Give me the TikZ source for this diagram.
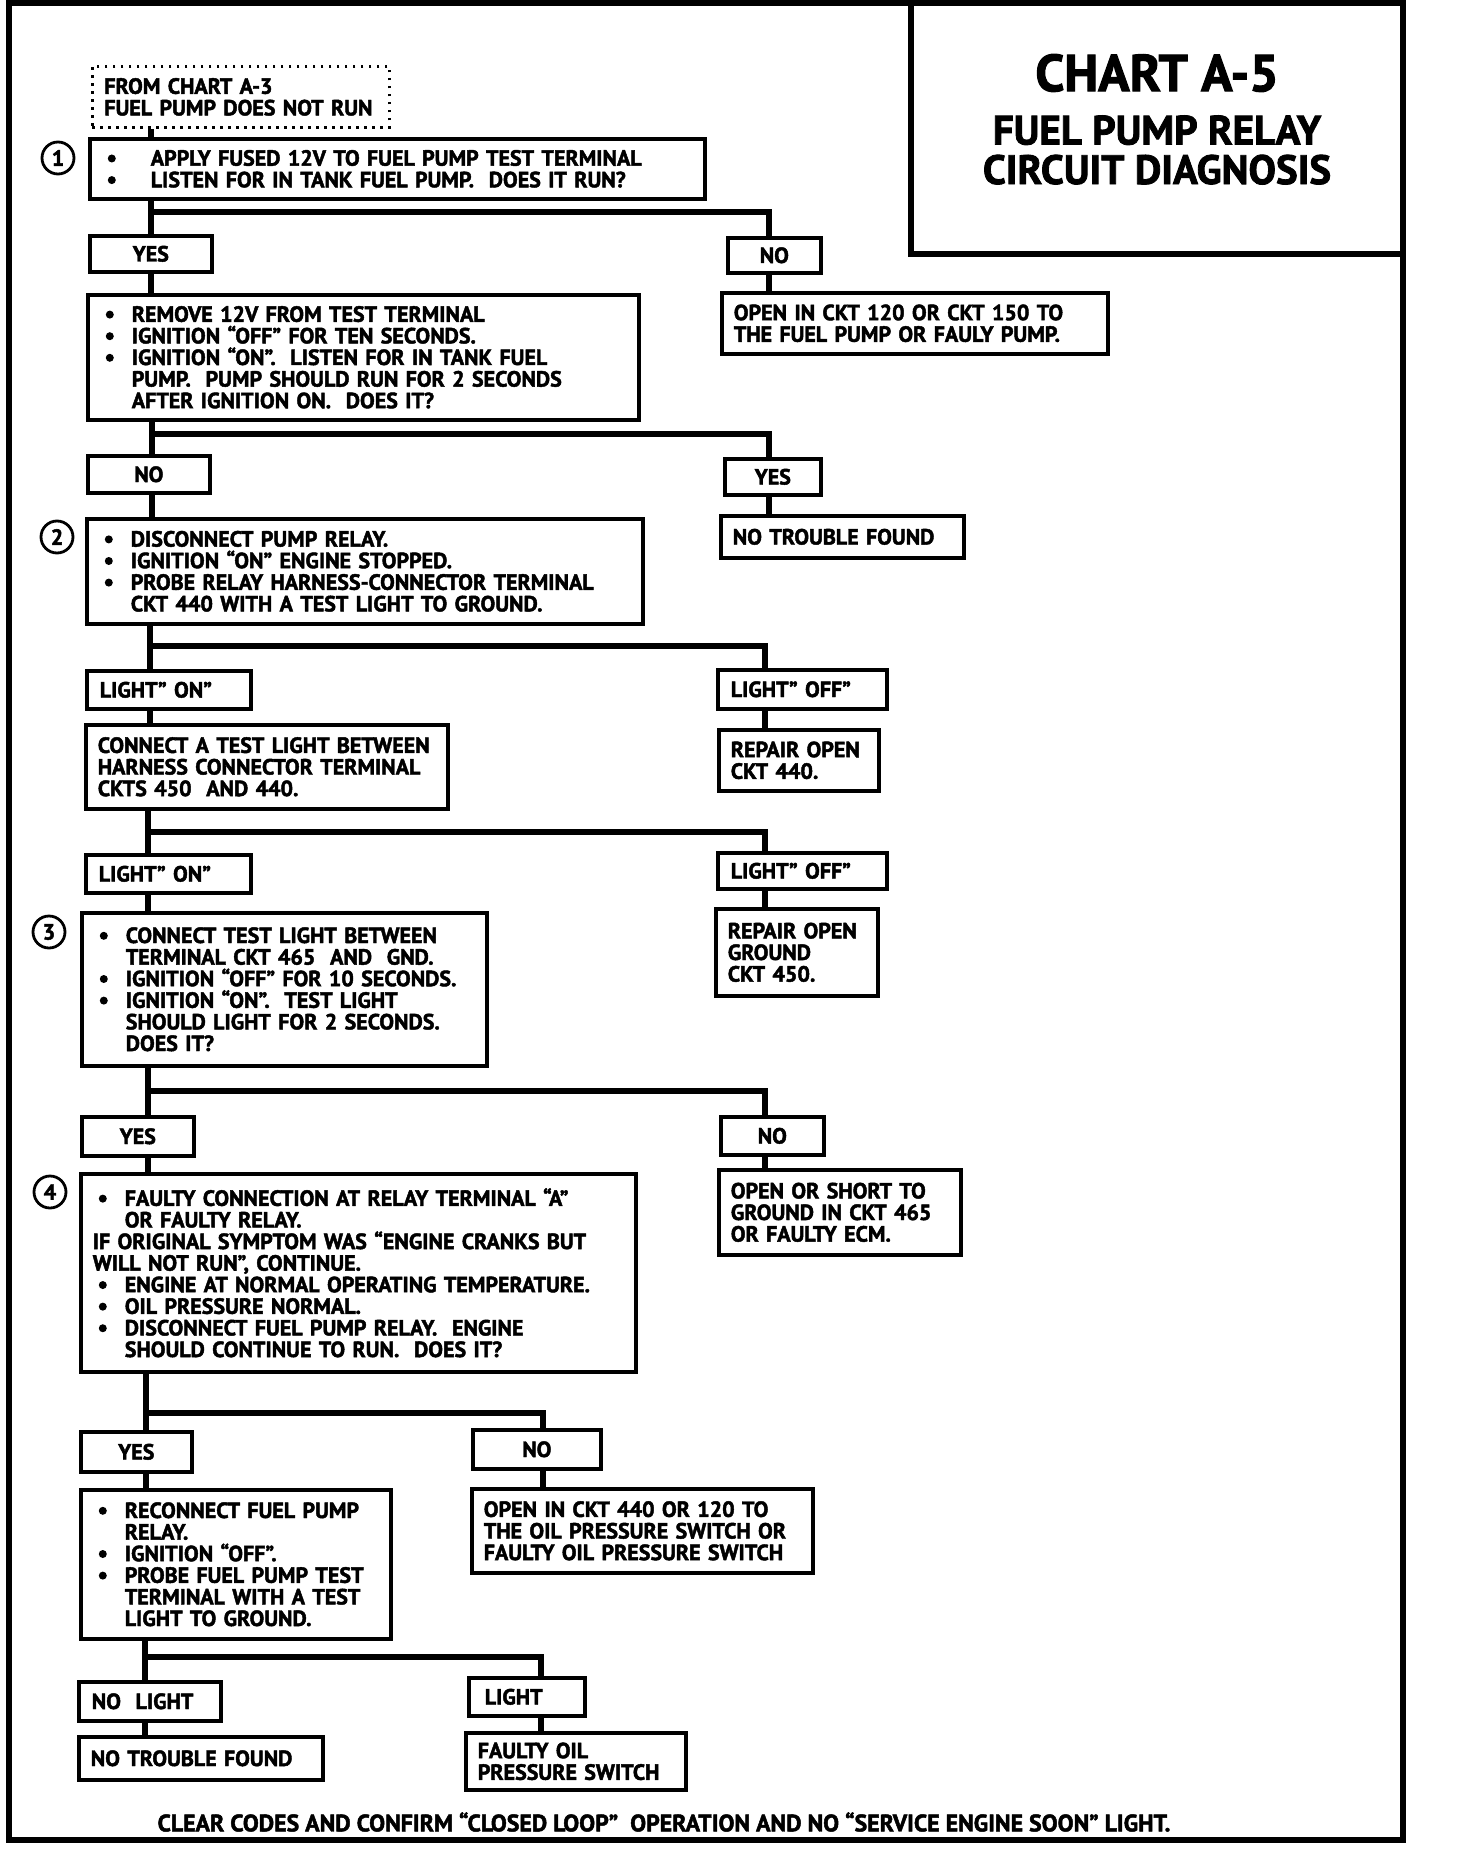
\documentclass[tikz,border=0pt]{standalone}
\usepackage{fontspec}
\setmainfont{PT Sans}[BoldFeatures={FakeBold=2}]
\usetikzlibrary{positioning}

\newcommand\bul[1][16pt]{\makebox[#1][l]{\hspace{3pt}\tikz[baseline=-3.6pt]\fill (0,0) circle[radius=2pt];}}
\newcommand\ind{\hspace*{16pt}}

\begin{document}
\begin{tikzpicture}[
  x=0.5pt, y=-0.5pt,
  font=\bfseries\fontsize{11}{10.8}\selectfont,
  qbox/.style = {
    rectangle, draw, line width=1.8pt, anchor=north west,
    align=left, inner xsep=6pt, inner ysep=0pt,
  },
  lbl/.style = {
    rectangle, draw, line width=1.8pt, anchor=north west,
    align=center, inner sep=0pt,
  },
  tag/.style = {qbox, inner xsep=6.5pt},
  src/.style = {qbox, line width=1.4pt, dash pattern=on 1.4pt off 2.6pt},
  num/.style = {circle, draw, line width=1.4pt, minimum size=16pt, inner sep=0pt},
  link/.style = {line width=3.2pt},
  frame/.style = {line width=2.6pt},
]
  \useasboundingbox (0,0) rectangle (1456,1850);
  \draw[frame] (9,3) rectangle (1403,1840);
  \draw[frame] (911,3) |- (1403,254);

  \node[font=\bfseries\fontsize{26}{28}\selectfont] (title) at (1157,73) {CHART A-5};
  \node[font=\bfseries\fontsize{20.5}{19.75}\selectfont, align=center] (subtitle) at (1157,150) {FUEL PUMP RELAY\\CIRCUIT DIAGNOSIS};

  \node[src, text width=136.5pt, minimum height=30.5pt] (from) at (91,65) {FROM CHART A-3\\FUEL PUMP DOES NOT RUN};

  \node[num] (c1) at (58,158) {1};
  \node[qbox, text width=295.5pt, minimum height=30pt] (apply12v) at (88,137) {\bul[24.5pt]APPLY FUSED 12V TO FUEL PUMP TEST TERMINAL\\ \bul[24.5pt]LISTEN FOR IN TANK FUEL PUMP.\ \ DOES IT RUN?};
  \node[lbl, minimum width=61pt, minimum height=18pt]   (yes1) at (88,234) {YES};
  \node[lbl, minimum width=46.5pt, minimum height=17.5pt] (no1) at (726,236) {NO};
  \node[qbox, text width=181pt, minimum height=30.5pt] (opn120) at (720,291) {OPEN IN CKT 120 OR CKT 150 TO\\THE FUEL PUMP OR FAULY PUMP.};

  \node[qbox, text width=263.5pt, minimum height=62.5pt] (remove12v) at (86,293) {\bul REMOVE 12V FROM TEST TERMINAL\\ \bul IGNITION “OFF” FOR TEN SECONDS.\\ \bul IGNITION “ON”.\ \ LISTEN FOR IN TANK FUEL\\ \ind PUMP.\ \ PUMP SHOULD RUN FOR 2 SECONDS\\ \ind AFTER IGNITION ON.\ \ DOES IT?};
  \node[lbl, minimum width=61pt, minimum height=18.5pt] (no2) at (86,454) {NO};
  \node[lbl, minimum width=48pt, minimum height=18pt]   (yes2) at (723,457) {YES};
  \node[qbox, text width=109.5pt, minimum height=21pt] (ntf1) at (719,514) {NO TROUBLE FOUND};

  \node[num] (c2) at (57,537) {2};
  \node[qbox, text width=266pt, minimum height=52.5pt] (relay) at (85,517) {\bul DISCONNECT PUMP RELAY.\\ \bul IGNITION “ON” ENGINE STOPPED.\\ \bul PROBE RELAY HARNESS-CONNECTOR TERMINAL\\ \ind CKT 440 WITH A TEST LIGHT TO GROUND.};
  \node[tag, text width=69pt, minimum height=19pt]     (on1) at (85,669) {LIGHT” ON”};
  \node[tag, text width=71.5pt, minimum height=19.5pt] (off1) at (716,668) {LIGHT” OFF”};
  \node[qbox, text width=68pt, minimum height=30.5pt] (opn440) at (717,728) {REPAIR OPEN\\CKT 440.};

  \node[qbox, text width=169pt, minimum height=42pt] (harness) at (84,723) {CONNECT A TEST LIGHT BETWEEN\\HARNESS CONNECTOR TERMINAL\\CKTS 450\ \ AND 440.};
  \node[tag, text width=69.5pt, minimum height=19pt] (on2) at (84,853) {LIGHT” ON”};
  \node[tag, text width=71.5pt, minimum height=18pt] (off2) at (716,851) {LIGHT” OFF”};
  \node[qbox, text width=69pt, minimum height=43.5pt] (opngnd) at (714,907) {REPAIR OPEN\\GROUND\\CKT 450.};

  \node[num] (c3) at (49,932) {3};
  \node[qbox, text width=190.5pt, minimum height=76.5pt] (gndtest) at (80,911) {\bul CONNECT TEST LIGHT BETWEEN\\ \ind TERMINAL CKT 465\ \ AND\ \ GND.\\ \bul IGNITION “OFF” FOR 10 SECONDS.\\ \bul IGNITION “ON”.\ \ TEST LIGHT\\ \ind SHOULD LIGHT FOR 2 SECONDS.\\ \ind DOES IT?};
  \node[lbl, minimum width=56pt, minimum height=19.5pt] (yes3) at (80,1115) {YES};
  \node[lbl, minimum width=51.5pt, minimum height=19pt] (no3) at (719,1115) {NO};
  \node[qbox, text width=109pt, minimum height=42.5pt] (opn465) at (717,1168) {OPEN OR SHORT TO\\GROUND IN CKT 465\\OR FAULTY ECM.};

  \node[num] (c4) at (50,1192) {4};
  \node[qbox, text width=265.5pt, minimum height=99pt] (faulty) at (79,1172) {\bul FAULTY CONNECTION AT RELAY TERMINAL “A”\\ \ind OR FAULTY RELAY.\\IF ORIGINAL SYMPTOM WAS “ENGINE CRANKS BUT\\WILL NOT RUN”, CONTINUE.\\ \bul ENGINE AT NORMAL OPERATING TEMPERATURE.\\ \bul OIL PRESSURE NORMAL.\\ \bul DISCONNECT FUEL PUMP RELAY.\ \ ENGINE\\ \ind SHOULD CONTINUE TO RUN.\ \ DOES IT?};
  \node[lbl, minimum width=55.5pt, minimum height=20pt] (yes4) at (79,1430) {YES};
  \node[lbl, minimum width=64pt, minimum height=19.5pt] (no4) at (471,1428) {NO};
  \node[qbox, text width=158.5pt, minimum height=42pt] (opnops) at (470,1487) {OPEN IN CKT 440 OR 120 TO\\THE OIL PRESSURE SWITCH OR\\FAULTY OIL PRESSURE SWITCH};

  \node[qbox, text width=143pt, minimum height=74.5pt] (reconnect) at (79,1488) {\bul RECONNECT FUEL PUMP\\ \ind RELAY.\\ \bul IGNITION “OFF”.\\ \bul PROBE FUEL PUMP TEST\\ \ind TERMINAL WITH A TEST\\ \ind LIGHT TO GROUND.};
  \node[tag, text width=58pt, minimum height=19.5pt] (nolt) at (77,1680) {NO\ \ LIGHT};
  \node[tag, text width=42pt, minimum height=19pt, inner xsep=8pt] (lt) at (467,1676) {LIGHT};
  \node[qbox, text width=110pt, minimum height=21.5pt] (ntf2) at (77,1735) {NO TROUBLE FOUND};
  \node[qbox, text width=98pt, minimum height=28.5pt] (badsw) at (464,1731) {FAULTY OIL\\PRESSURE SWITCH};

  \node[font=\bfseries\fontsize{11.9}{12}\selectfont] (note) at (664,1822) {CLEAR CODES AND CONFIRM “CLOSED LOOP”\ \ OPERATION AND NO “SERVICE ENGINE SOON” LIGHT.};

  \coordinate (b1) at (151,212);  \coordinate (b1r) at (769,212);
  \coordinate (b2) at (152,434);  \coordinate (b2r) at (769,434);
  \coordinate (b3) at (150,646);  \coordinate (b3r) at (765,646);
  \coordinate (b4) at (148,832);  \coordinate (b4r) at (765,832);
  \coordinate (b5) at (148,1091); \coordinate (b5r) at (765,1091);
  \coordinate (b6) at (146,1413); \coordinate (b6r) at (543,1413);
  \coordinate (b7) at (145,1657); \coordinate (b7r) at (541,1657);

  \draw[link] (from.south -| b1) -- (apply12v.north -| b1);

  \draw[link] (apply12v.south -| b1) -- (b1) -- (yes1.north -| b1);
  \draw[link] (b1) -- (b1r) -- (no1.north -| b1r);
  \draw[link] (yes1.south -| b1) -- (remove12v.north -| b1);
  \draw[link] (no1.south -| b1r) -- (opn120.north -| b1r);

  \draw[link] (remove12v.south -| b2) -- (b2) -- (no2.north -| b2);
  \draw[link] (b2) -- (b2r) -- (yes2.north -| b2r);
  \draw[link] (no2.south -| b2) -- (relay.north -| b2);
  \draw[link] (yes2.south -| b2r) -- (ntf1.north -| b2r);

  \draw[link] (relay.south -| b3) -- (b3) -- (on1.north -| b3);
  \draw[link] (b3) -- (b3r) -- (off1.north -| b3r);
  \draw[link] (on1.south -| b3) -- (harness.north -| b3);
  \draw[link] (off1.south -| b3r) -- (opn440.north -| b3r);

  \draw[link] (harness.south -| b4) -- (b4) -- (on2.north -| b4);
  \draw[link] (b4) -- (b4r) -- (off2.north -| b4r);
  \draw[link] (on2.south -| b4) -- (gndtest.north -| b4);
  \draw[link] (off2.south -| b4r) -- (opngnd.north -| b4r);

  \draw[link] (gndtest.south -| b5) -- (b5) -- (yes3.north -| b5);
  \draw[link] (b5) -- (b5r) -- (no3.north -| b5r);
  \draw[link] (yes3.south -| b5) -- (faulty.north -| b5);
  \draw[link] (no3.south -| b5r) -- (opn465.north -| b5r);

  \draw[link] (faulty.south -| b6) -- (b6) -- (yes4.north -| b6);
  \draw[link] (b6) -- (b6r) -- (no4.north -| b6r);
  \draw[link] (yes4.south -| b6) -- (reconnect.north -| b6);
  \draw[link] (no4.south -| b6r) -- (opnops.north -| b6r);

  \draw[link] (reconnect.south -| b7) -- (b7) -- (nolt.north -| b7);
  \draw[link] (b7) -- (b7r) -- (lt.north -| b7r);
  \draw[link] (nolt.south -| b7) -- (ntf2.north -| b7);
  \draw[link] (lt.south -| b7r) -- (badsw.north -| b7r);
\end{tikzpicture}
\end{document}
